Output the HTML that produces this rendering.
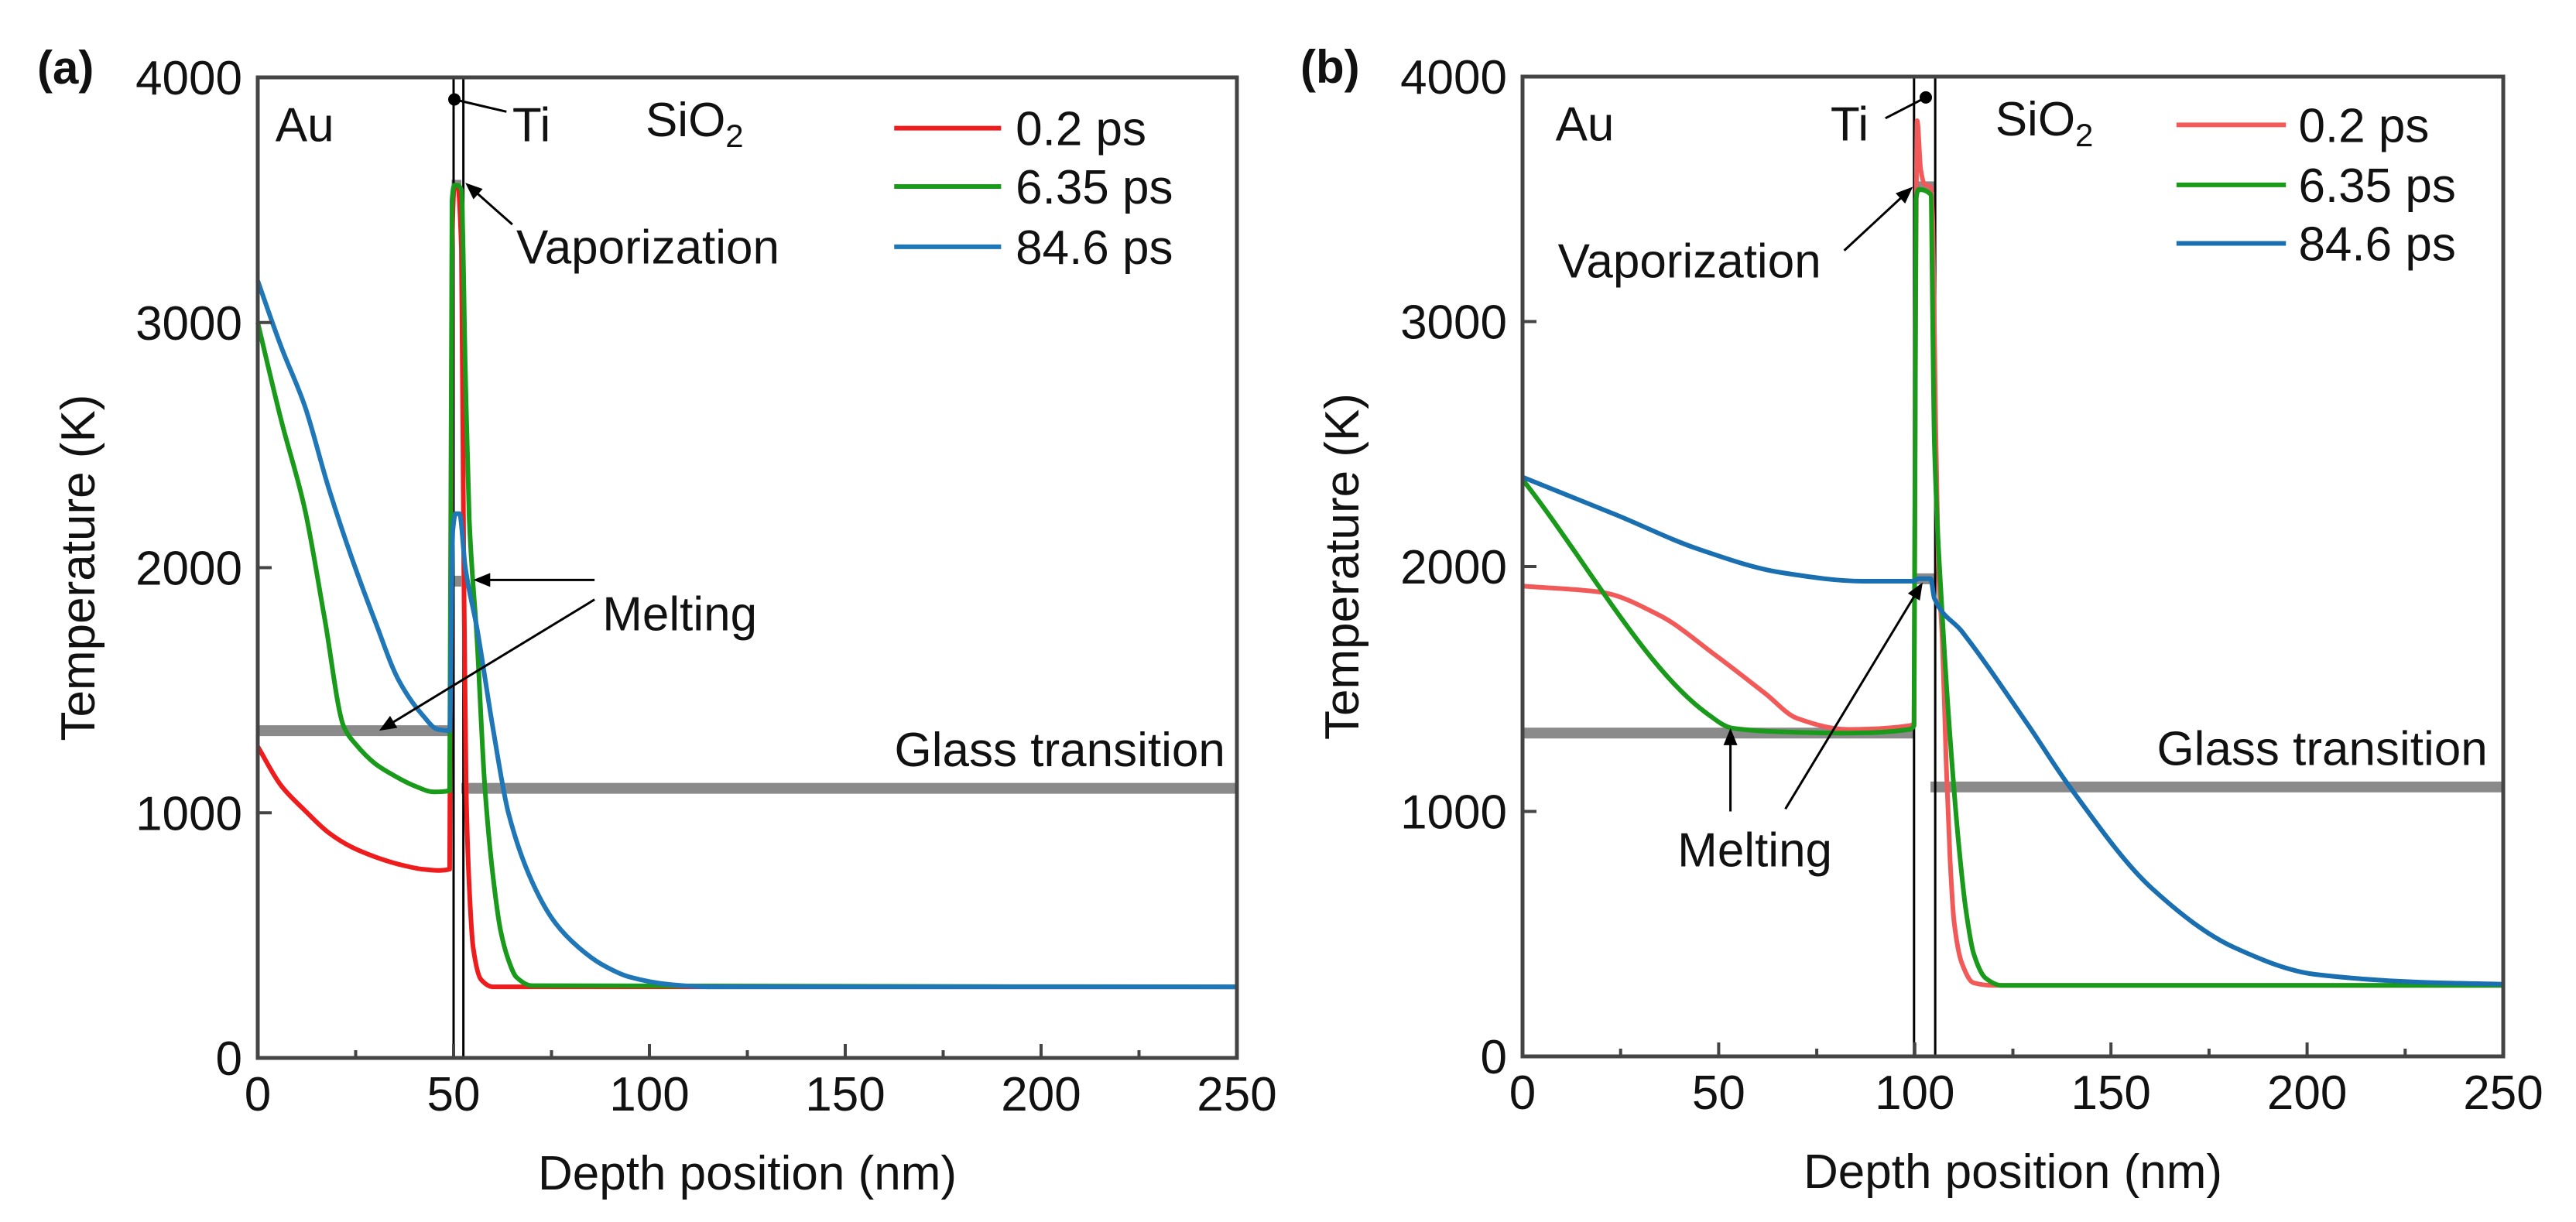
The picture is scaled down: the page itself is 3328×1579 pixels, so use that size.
<!DOCTYPE html>
<html><head><meta charset="utf-8"><style>
html,body{margin:0;padding:0;background:#fff}
svg{display:block;font-family:"Liberation Sans",Arial,sans-serif}
</style></head><body>
<svg id="fig" width="3328" height="1579" viewBox="0 0 3328 1579" xmlns="http://www.w3.org/2000/svg"></svg>
<script>
// ---- data: panel (a) ----
const xTicks = [0, 50, 100, 150, 200, 250];
const yTicks = [0, 1000, 2000, 3000, 4000];
const seriesNames = ["0.2 ps", "6.35 ps", "84.6 ps"];
const a_red_x = [0,6,12,18,24,30,36,42,46,49,49.6,50.2,51,52,52.6,53.2,54,55,57,60,250];
const a_red_y = [1270,1110,1010,920,860,820,790,770,765,770,3300,3560,3560,3300,2000,1100,700,450,320,290,290];
const a_green_x = [0,6,12,17,22,25,30,35,40,45,49,49.6,50.2,51,52,53,54,56,58,60,62,64,66,70,250];
const a_green_y = [3000,2600,2240,1800,1350,1280,1200,1150,1110,1085,1090,3500,3560,3560,3540,2800,2200,1700,1100,750,520,400,330,295,290];
const a_blue_x = [0,6,12,18,24,30,36,42,46,49,49.8,50.5,51.5,53,56,60,64,70,76,82,88,95,105,115,250];
const a_blue_y = [3170,2900,2660,2330,2040,1780,1540,1400,1340,1335,2150,2220,2220,2000,1750,1350,1000,720,550,450,380,330,300,290,290];
// ---- data: panel (b) ----
const b_red_x = [0,20,35,49,62,70,83,98.6,99.8,100.2,100.6,101.5,102.5,104,104.6,105.2,106,107,108,109,110,112,115,120,250];
const b_red_y = [1920,1895,1800,1640,1480,1380,1335,1350,1360,3000,3820,3620,3560,3550,3400,2700,2000,1700,1200,800,550,380,300,290,290];
const b_green_x = [0,47,53.5,66,83,98.6,99.8,100.3,101,104,105,107,109,111,113,115,118,122,250];
const b_green_y = [2355,1400,1340,1325,1320,1335,1350,3500,3540,3520,2500,1800,1300,900,600,420,320,290,290];
const b_blue_x = [0,24,45,66,87,99.6,101,104,105,112,129,139.5,160.5,181.4,202,234,250];
const b_blue_y = [2365,2210,2070,1975,1940,1940,1950,1950,1870,1735,1350,1100,685,445,335,300,295];

const NS = "http://www.w3.org/2000/svg";
const svg = document.getElementById('fig');
function mk(tag, attrs, parent, text){
  const e = document.createElementNS(NS, tag);
  for (const k in attrs) e.setAttribute(k, attrs[k]);
  if (text !== undefined) e.textContent = text;
  (parent||svg).appendChild(e);
  return e;
}
// monotone cubic path (Fritsch-Carlson)
function monoPath(px, py){
  const n = px.length;
  if (n < 3) return 'M' + px.map((x,i)=>x.toFixed(1)+','+py[i].toFixed(1)).join('L');
  const d = [], m = new Array(n);
  for (let i=0;i<n-1;i++) d.push((py[i+1]-py[i])/(px[i+1]-px[i]));
  m[0]=d[0]; m[n-1]=d[n-2];
  for (let i=1;i<n-1;i++){
    if (d[i-1]*d[i] <= 0) m[i]=0;
    else { const h0=px[i]-px[i-1], h1=px[i+1]-px[i];
      const w1=2*h1+h0, w2=h1+2*h0; m[i]=(w1+w2)/(w1/d[i-1]+w2/d[i]); }
  }
  let s = 'M'+px[0].toFixed(1)+','+py[0].toFixed(1);
  for (let i=0;i<n-1;i++){
    const h=(px[i+1]-px[i])/3;
    s += 'C'+(px[i]+h).toFixed(1)+','+(py[i]+m[i]*h).toFixed(1)+' '+(px[i+1]-h).toFixed(1)+','+(py[i+1]-m[i+1]*h).toFixed(1)+' '+px[i+1].toFixed(1)+','+py[i+1].toFixed(1);
  }
  return s;
}
const colors = ["#ee1c1c", "#1a9a1a", "#1f77b8"];
const colorsB = ["#f25a5a", "#1a9a1a", "#1a6fb0"];

function panel(cfg){
  const g = mk('g', {});
  
  
  const L=cfg.L,R=cfg.R,T=cfg.T,B=cfg.B;
  const sx = v => L + (v/250)*(R-L);
  const sy = v => B - (v/4000)*(B-T);
  cfg.gray.forEach(gl=>{
    const l = mk('line',{x1:sx(gl[0]),x2:sx(gl[1]),y1:sy(gl[2]),y2:sy(gl[2]),stroke:'#8a8a8a','stroke-width':14},g);
    
    
  });
  cfg.vlines.forEach(v=>{
    const l = mk('line',{x1:sx(v),x2:sx(v),y1:T,y2:B,stroke:'#000','stroke-width':3},g);
    
    
  });
  cfg.series.forEach((s,i)=>{
    const px = s[0].map(sx), py = s[1].map(sy);
    const p = mk('path',{d:monoPath(px,py),fill:'none',stroke:cfg.colors[i],'stroke-width':6,'stroke-linejoin':'round'},g);
    
    
  });
  const fr = mk('rect',{x:L,y:T,width:R-L,height:B-T,fill:'none',stroke:'#444','stroke-width':5},g);
  
  
  xTicks.forEach(v=>{
    const t = mk('line',{x1:sx(v),x2:sx(v),y1:B,y2:B-18,stroke:'#444','stroke-width':4},g);
    
    
    const lab = mk('text',{x:sx(v),y:B+68,'font-size':62,'text-anchor':'middle',fill:'#111'},g,String(v));
    
    
  });
  xTicks.slice(0,-1).forEach(v=>{
    const t = mk('line',{x1:sx(v+25),x2:sx(v+25),y1:B,y2:B-10,stroke:'#444','stroke-width':4},g);
    
    
  });
  yTicks.forEach(v=>{
    const t = mk('line',{x1:L,x2:L+18,y1:sy(v),y2:sy(v),stroke:'#444','stroke-width':4},g);
    
    
    const lab = mk('text',{x:L-20,y:sy(v)+22,'font-size':62,'text-anchor':'end',fill:'#111'},g,String(v));
    
    
  });
  const xt = mk('text',{x:(L+R)/2,y:B+170,'font-size':62,'text-anchor':'middle',fill:'#111'},g,'Depth position (nm)');
  
  
  const yt = mk('text',{x:0,y:0,'font-size':62,'text-anchor':'middle',fill:'#111',transform:`translate(${cfg.ytx},${(T+B)/2}) rotate(-90)`},g,'Temperature (K)');
  
  
  const pl = mk('text',{x:cfg.plx,y:T+8,'font-size':60,'font-weight':'bold',fill:'#111'},g,cfg.label);
  
  
  cfg.texts.forEach(t=>{
    const e = mk('text',{x:sx(t[0]),y:sy(t[1]),'font-size':62,'text-anchor':t[3]||'start',fill:'#111'},g,t[2]);
    
    
  });
  const si = mk('text',{x:sx(cfg.sio2[0]),y:sy(cfg.sio2[1]),'font-size':62,fill:'#111'},g);
  
  
  mk('tspan',{},si,'SiO');
  mk('tspan',{'font-size':42,dy:14},si,'2');
  cfg.arrows.forEach(a=>{
    const x1=sx(a[0]),y1=sy(a[1]),x2=sx(a[2]),y2=sy(a[3]);
    const ang=Math.atan2(y2-y1,x2-x1), h=22, w=9;
    const ln = mk('line',{x1:x1,y1:y1,x2:x2-Math.cos(ang)*h*0.8,y2:y2-Math.sin(ang)*h*0.8,stroke:'#000','stroke-width':3},g);
    
    
    const bx=x2-Math.cos(ang)*h, by=y2-Math.sin(ang)*h;
    const hd = mk('polygon',{points:`${x2},${y2} ${bx-Math.sin(ang)*w},${by+Math.cos(ang)*w} ${bx+Math.sin(ang)*w},${by-Math.cos(ang)*w}`,fill:'#000'},g);
    
    
  });
  const dl = mk('line',{x1:sx(cfg.ti[0]),y1:sy(cfg.ti[1]),x2:sx(cfg.ti[2]),y2:sy(cfg.ti[3]),stroke:'#000','stroke-width':3},g);
  
  
  const dot = mk('circle',{cx:sx(cfg.ti[0]),cy:sy(cfg.ti[1]),r:8,fill:'#000'},g);
  
  
  cfg.legY.forEach((v,i)=>{
    const le = mk('g',{},g);
    
    
    mk('line',{x1:sx(cfg.leg[0]),x2:sx(cfg.leg[1]),y1:sy(v),y2:sy(v),stroke:cfg.colors[i],'stroke-width':6},le);
    mk('text',{x:sx(cfg.leg[2]),y:sy(v)+22,'font-size':62,fill:'#111'},le,seriesNames[i]);
  });
}

panel({name:'panel-a',label:'(a)',plx:48,L:333,R:1598,T:100,B:1367,ytx:122,colors:colors,
  series:[[a_red_x,a_red_y],[a_green_x,a_green_y],[a_blue_x,a_blue_y]],
  gray:[[0,50,1335,'au-melting-line'],[52,250,1100,'glass-transition-line'],[49,52,1945,'ti-melting-line'],[49.5,52,3560,'vaporization-line']],
  vlines:[50,52.5],
  texts:[[4.5,3740,'Au','start','au-label'],[65,3740,'Ti','start','ti-label'],[66,3240,'Vaporization','start','vaporization-label'],[88,1745,'Melting','start','melting-label'],[247,1190,'Glass transition','end','glass-transition-label']],
  sio2:[99,3760],
  arrows:[[65,3400,53,3570],[86,1950,55,1950],[86,1870,31,1335]],
  ti:[50.2,3910,63.5,3860],
  legY:[3793,3555,3309],leg:[162.5,189.8,193.5]
});
panel({name:'panel-b',label:'(b)',plx:1680,L:1967,R:3234,T:99,B:1365,ytx:1755,colors:colorsB,
  series:[[b_red_x,b_red_y],[b_green_x,b_green_y],[b_blue_x,b_blue_y]],
  gray:[[0,100,1320,'au-melting-line'],[104,250,1100,'glass-transition-line'],[100,105,1950,'ti-melting-line'],[100,105,3550,'vaporization-line']],
  vlines:[99.8,105.2],
  texts:[[9,3180,'Vaporization','start','vaporization-label'],[8.4,3740,'Au','start','au-label'],[78.5,3740,'Ti','start','ti-label'],[39.5,775,'Melting','start','melting-label'],[246,1190,'Glass transition','end','glass-transition-label']],
  sio2:[120.5,3760],
  arrows:[[82,3290,99.5,3550],[53,1000,53,1340],[67,1010,102,1935]],
  ti:[102.8,3915,92.5,3830],
  legY:[3803,3558,3319],leg:[166.7,194.6,197.8]
});
</script>
</body></html>
